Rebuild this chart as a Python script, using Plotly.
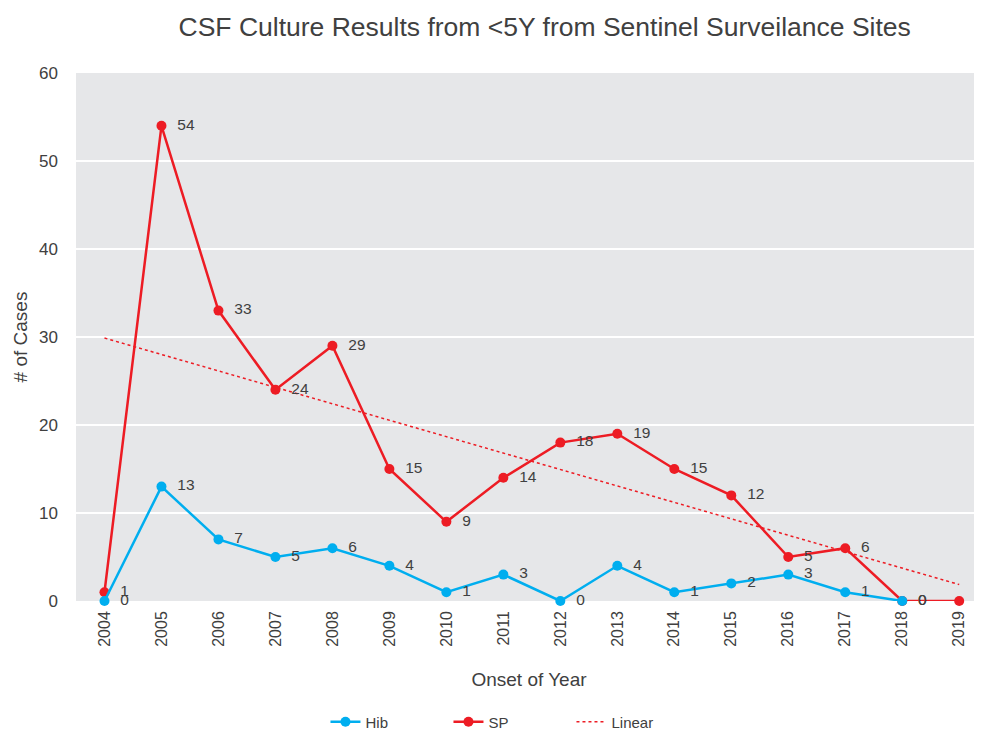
import numpy as np
import plotly.graph_objects as go

years = [str(y) for y in range(2004, 2020)]
hib = [0, 13, 7, 5, 6, 4, 1, 3, 0, 4, 1, 2, 3, 1, 0, None]
sp = [1, 54, 33, 24, 29, 15, 9, 14, 18, 19, 15, 12, 5, 6, 0, 0]

xi = np.arange(len(sp))
slope, intercept = np.polyfit(xi, sp, 1)
trend = (slope * xi + intercept).tolist()

FONT = "Liberation Sans, Arial, sans-serif"
TXT = "#404040"
BLUE = "#00AEEF"
RED = "#ED1C24"
PAD = "\u00a0\u00a0"

fig = go.Figure()
fig.add_trace(go.Scatter(
    x=years, y=trend, name="Linear", mode="lines", legendrank=3,
    line=dict(color=RED, width=1.5, dash="dot"), hoverinfo="skip"))
fig.add_trace(go.Scatter(
    x=years, y=sp, name="SP", mode="lines+markers+text", legendrank=2,
    line=dict(color=RED, width=2.5), marker=dict(size=10, color=RED),
    text=[PAD + str(v) for v in sp], textposition="middle right",
    textfont=dict(size=15.5, color=TXT, family=FONT), cliponaxis=False))
fig.add_trace(go.Scatter(
    x=years, y=hib, name="Hib", mode="lines+markers+text", legendrank=1,
    line=dict(color=BLUE, width=2.5), marker=dict(size=10, color=BLUE),
    text=[(PAD + str(v)) if v is not None else "" for v in hib],
    textposition="middle right",
    textfont=dict(size=15.5, color=TXT, family=FONT), cliponaxis=False))

fig.update_layout(
    width=974, height=723,
    paper_bgcolor="white", plot_bgcolor="#E6E7E9",
    margin=dict(l=68, r=0, t=65, b=130, autoexpand=False),
    font=dict(family=FONT, color=TXT, size=16),
    title=dict(text="CSF Culture Results from <5Y from Sentinel Surveilance Sites",
               x=0.551, xanchor="center", y=0.974, yanchor="middle",
               font=dict(size=26.5, color=TXT, family=FONT)),
    xaxis=dict(type="category", range=[-0.5, 15.4], tickangle=-90,
               showgrid=False, zeroline=False, ticks="", automargin=False,
               ticklabelstandoff=6, tickfont=dict(size=16, color=TXT),
               title=dict(text="Onset of Year", font=dict(size=19, color=TXT), standoff=26)),
    yaxis=dict(range=[0, 60], dtick=10, gridcolor="white", gridwidth=1.5,
               zeroline=False, ticks="", automargin=False, ticklabelstandoff=17,
               tickfont=dict(size=17, color=TXT),
               title=dict(text="# of Cases", font=dict(size=19, color=TXT), standoff=6)),
    legend=dict(orientation="h", x=0.479, xanchor="center", y=-0.229, yanchor="middle",
                font=dict(size=15, color=TXT), entrywidth=78, traceorder="normal"),
    showlegend=True,
)

fig.write_html("out.html")
